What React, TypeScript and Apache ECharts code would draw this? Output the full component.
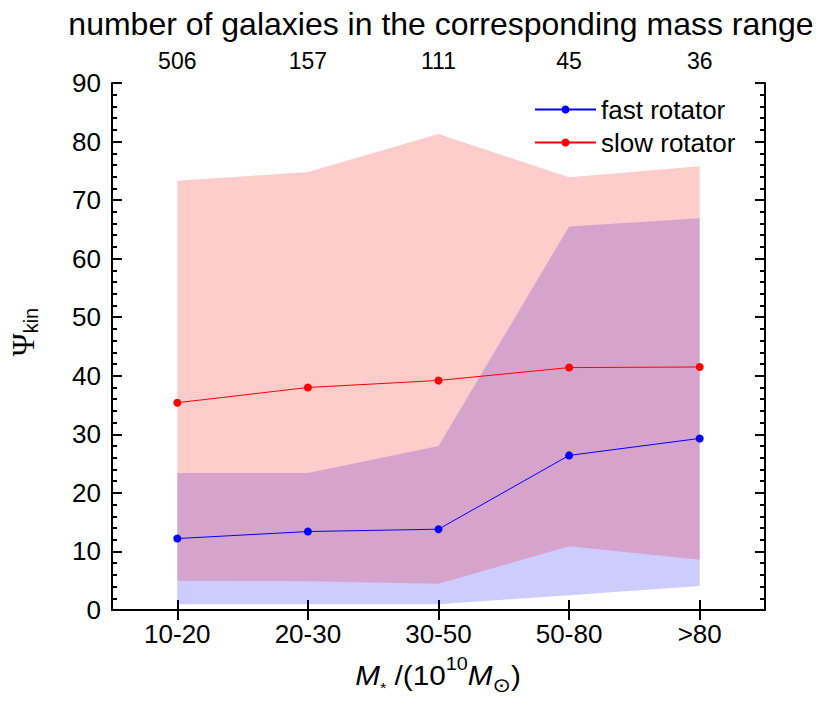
import React, { useEffect, useRef } from "react";
import * as echarts from "echarts";

const categories = ["10-20", "20-30", "30-50", "50-80", ">80"];
const galaxyCounts = ["506", "157", "111", "45", "36"];
const fastMedian = [12.2, 13.4, 13.8, 26.4, 29.3];
const fastLow = [1.0, 1.0, 1.0, 2.5, 4.1];
const fastHigh = [23.4, 23.4, 28.0, 65.5, 66.9];
const slowMedian = [35.4, 38.0, 39.2, 41.4, 41.5];
const slowLow = [5.0, 4.9, 4.5, 10.9, 8.6];
const slowHigh = [73.3, 74.8, 81.3, 73.9, 75.8];
const yTicks = { min: 0, max: 90, interval: 10 };

const FONT = "'Liberation Sans', Arial, sans-serif";

export default function App() {
  const ref = useRef<HTMLDivElement>(null);
  useEffect(() => {
    if (!ref.current) return;
    const chart = echarts.init(ref.current, undefined, { renderer: "svg" });
    const diff = (hi: number[], lo: number[]) => hi.map((v, i) => +(v - lo[i]).toFixed(3));
    const bandSeries = (name: string, lo: number[], hi: number[], color: string) => [
      {
        type: "line",
        name: name + "-low",
        stack: name,
        data: lo,
        symbol: "none",
        lineStyle: { opacity: 0 },
        silent: true,
        xAxisIndex: 0,
        yAxisIndex: 0,
      },
      {
        type: "line",
        name: name + "-band",
        stack: name,
        data: diff(hi, lo),
        symbol: "none",
        lineStyle: { opacity: 0 },
        areaStyle: { color, opacity: 1 },
        silent: true,
        xAxisIndex: 0,
        yAxisIndex: 0,
      },
    ];
    const axisLine = { show: true, lineStyle: { color: "#000", width: 2 } };
    const option: any = {
      animation: false,
      textStyle: { fontFamily: FONT },
      grid: { left: 112, right: 65, top: 83, bottom: 98 },
      legend: {
        data: ["fast rotator", "slow rotator"],
        orient: "vertical",
        left: 529,
        top: 91,
        itemWidth: 61,
        itemHeight: 10,
        itemGap: 6,
        textStyle: { fontSize: 26, color: "#000", fontFamily: FONT, lineHeight: 27 },
      },
      xAxis: [
        {
          type: "category",
          position: "bottom",
          data: categories,
          boundaryGap: true,
          axisLine,
          axisTick: { show: true, inside: true, alignWithLabel: true, length: 10, lineStyle: { width: 2, color: "#000" } },
          axisLabel: { fontSize: 26, color: "#000", margin: 11, fontFamily: FONT },
          splitLine: { show: false },
        },
        {
          type: "category",
          position: "top",
          data: galaxyCounts,
          boundaryGap: true,
          axisLine,
          axisTick: { show: true, inside: true, alignWithLabel: true, length: 10, lineStyle: { width: 2, color: "#000" } },
          axisLabel: { fontSize: 23, color: "#000", margin: 11, fontFamily: FONT },
          splitLine: { show: false },
        },
      ],
      yAxis: [0, 1].map((i) => ({
        type: "value",
        position: i === 0 ? "left" : "right",
        min: yTicks.min,
        max: yTicks.max,
        interval: yTicks.interval,
        axisLine,
        axisTick: { show: true, inside: true, length: 10, lineStyle: { width: 2, color: "#000" } },
        minorTick: { show: true, splitNumber: 5, length: 5, lineStyle: { width: 2, color: "#000" } },
        axisLabel: { show: i === 0, fontSize: 26, color: "#000", margin: 11, fontFamily: FONT },
        splitLine: { show: false },
        minorSplitLine: { show: false },
      })),
      series: [
        ...bandSeries("fastBand", fastLow, fastHigh, "rgba(0,0,255,0.2)"),
        {
          type: "line",
          name: "fast rotator",
          data: fastMedian,
          symbol: "circle",
          symbolSize: 8,
          itemStyle: { color: "#0000ff" },
          lineStyle: { color: "#0000ff", width: 1 },
          xAxisIndex: 0,
          yAxisIndex: 0,
        },
        ...bandSeries("slowBand", slowLow, slowHigh, "rgba(255,0,0,0.2)"),
        {
          type: "line",
          name: "slow rotator",
          data: slowMedian,
          symbol: "circle",
          symbolSize: 8,
          itemStyle: { color: "#ff0000" },
          lineStyle: { color: "#ff0000", width: 1 },
          xAxisIndex: 0,
          yAxisIndex: 0,
        },
      ],
      graphic: [
        {
          type: "text",
          x: 441,
          y: 24,
          style: {
            text: "number of galaxies in the corresponding mass range",
            fontSize: 32,
            fontFamily: FONT,
            fill: "#000",
            align: "center",
            textAlign: "center",
            verticalAlign: "middle",
            textVerticalAlign: "middle",
          },
        },
        {
          type: "text",
          x: 438,
          y: 675,
          scaleX: 1.1,
          style: {
            text: "{i|M}{st|*}{n| /(10}{sup|10}{i|M}{sub|⊙}{n|)}",
            fill: "#000",
            align: "center",
            textAlign: "center",
            verticalAlign: "middle",
            textVerticalAlign: "middle",
            rich: {
              n: { fontSize: 27, lineHeight: 40, fontFamily: FONT, fill: "#000" },
              i: { fontSize: 27, lineHeight: 40, fontFamily: FONT, fontStyle: "italic", fill: "#000" },
              st: { fontSize: 15, lineHeight: 19, verticalAlign: "bottom", fontFamily: FONT, fill: "#000" },
              sup: { fontSize: 18, lineHeight: 10, verticalAlign: "top", fontFamily: FONT, fill: "#000" },
              sub: { fontSize: 20, lineHeight: 24, verticalAlign: "bottom", fontFamily: "'DejaVu Sans', sans-serif", fill: "#000" },
            },
          },
        },
        {
          type: "text",
          x: 23,
          y: 332,
          rotation: Math.PI / 2,
          style: {
            text: "{p|Ψ}{s|kin}",
            fill: "#000",
            align: "center",
            textAlign: "center",
            verticalAlign: "middle",
            textVerticalAlign: "middle",
            rich: {
              p: { fontSize: 31, lineHeight: 36, fontFamily: "'Liberation Serif', serif", fill: "#000" },
              s: { fontSize: 20, lineHeight: 12, verticalAlign: "bottom", fontFamily: FONT, fill: "#000" },
            },
          },
        },
      ],
    };
    chart.setOption(option);
    return () => chart.dispose();
  }, []);
  return (
    <div
      ref={ref}
      style={{ position: "fixed", left: 0, top: 0, width: 830, height: 708, background: "#fff" }}
    />
  );
}
